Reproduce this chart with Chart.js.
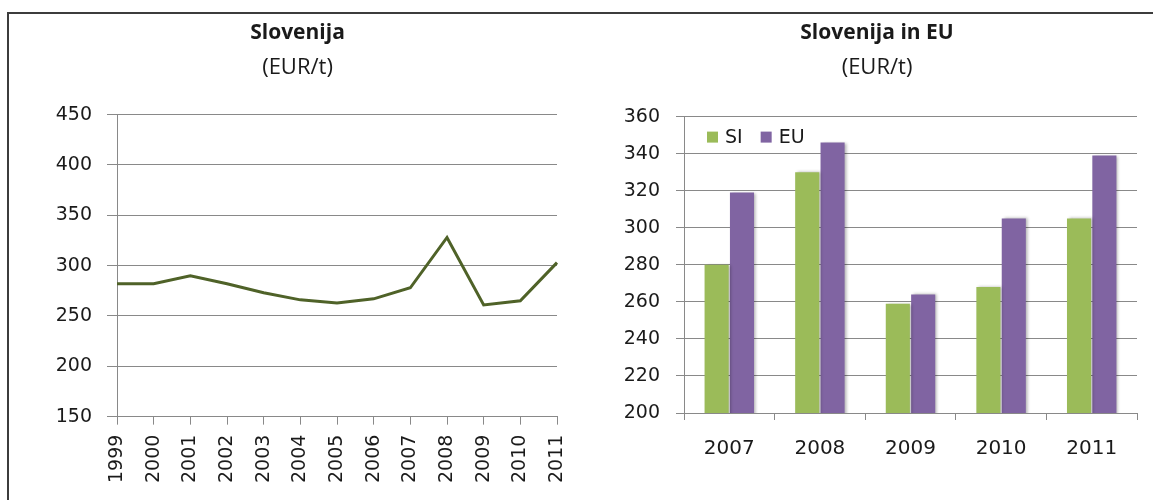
<!DOCTYPE html>
<html>
<head>
<meta charset="utf-8">
<script src="https://cdn.jsdelivr.net/npm/chart.js@4/dist/chart.umd.min.js"></script>
<style>
  html, body { margin: 0; padding: 0; background: #fff; }
  body { width: 1153px; height: 500px; position: relative; overflow: hidden; }
  .frame { position: absolute; left: 7px; top: 12px; width: 1160px; height: 500px;
           border-top: 2px solid #3c3c3c; border-left: 2px solid #3c3c3c; }
  .box { position: absolute; top: 14px; height: 486px; }
  #left { left: 9px; width: 571px; }
  #right { left: 580px; width: 573px; }
</style>
</head>
<body>
<div class="frame"></div>
<div class="box" id="left"><canvas id="lineChart"></canvas></div>
<div class="box" id="right"><canvas id="barChart"></canvas></div>
<script>
// data
const years = ['1999', '2000', '2001', '2002', '2003', '2004', '2005', '2006', '2007', '2008', '2009', '2010', '2011'];
const slovenija = [282, 282, 290, 282, 273, 266, 263, 267, 278, 328, 261, 265, 303];

const barYears = ['2007', '2008', '2009', '2010', '2011'];
const si = [280, 330, 259, 268, 305];
const eu = [319, 346, 264, 305, 339];

const gridColor = '#898989';
const textColor = '#1a1a1a';
const titleFont = "'Open Sans', sans-serif";
const tickFont = "'DejaVu Sans', sans-serif";

Chart.defaults.font.family = tickFont;
Chart.defaults.font.size = 19;
Chart.defaults.color = textColor;
Chart.defaults.animation = false;

function titles(title, padBottom) {
    return {
        title: { display: true, text: title, font: { family: titleFont, size: 21, weight: 'bold' }, color: textColor, padding: { top: 6, bottom: 9 } },
        subtitle: { display: true, text: '(EUR/t)', font: { family: titleFont, size: 22 }, color: textColor, padding: { top: 0, bottom: padBottom } },
        legend: { display: false },
        tooltip: { enabled: false }
    };
}

// left chart - line
new Chart(document.getElementById('lineChart'), {
    type: 'line',
    data: {
        labels: years,
        datasets: [{
            data: slovenija,
            borderColor: '#4f6228',
            borderWidth: 3,
            pointRadius: 0,
            tension: 0
        }]
    },
    options: {
        responsive: true,
        maintainAspectRatio: false,
        layout: { padding: { left: 18, right: 12, top: 0, bottom: 7 } },
        plugins: titles('Slovenija', 34),
        scales: {
            x: {
                afterFit: s => { s.paddingRight = 23; },
                grid: { drawOnChartArea: false, color: gridColor, tickLength: 8 },
                border: { color: gridColor },
                ticks: { minRotation: 90, maxRotation: 90, autoSkip: false, padding: 10 }
            },
            y: {
                min: 150,
                max: 450,
                afterFit: s => { s.width = 90; },
                grid: { color: gridColor, tickLength: 10 },
                border: { color: gridColor },
                ticks: { stepSize: 50, padding: 15 }
            }
        }
    }
});

// legend drawn inside the plot, top-left
const innerLegend = {
    id: 'innerLegend',
    afterDraw(chart) {
        const ctx = chart.ctx;
        const area = chart.chartArea;
        let x = area.left + 23;
        const y = area.top + 21;
        ctx.save();
        ctx.font = '19px ' + tickFont;
        ctx.textBaseline = 'middle';
        chart.data.datasets.forEach(ds => {
            ctx.fillStyle = ds.backgroundColor;
            ctx.fillRect(x, y - 6, 11, 11);
            ctx.fillStyle = textColor;
            ctx.fillText(ds.label, x + 18, y);
            x += 18 + ctx.measureText(ds.label).width + 18;
        });
        ctx.restore();
    }
};

// soft shadow on the right side of bars
const barShadow = {
    id: 'barShadow',
    beforeDatasetsDraw(chart) {
        const ctx = chart.ctx;
        ctx.save();
        ctx.shadowColor = 'rgba(0,0,0,0.3)';
        ctx.shadowOffsetX = 2;
        ctx.shadowOffsetY = 0;
        ctx.shadowBlur = 3;
    },
    afterDatasetsDraw(chart) {
        chart.ctx.restore();
    }
};

// right chart - bars
new Chart(document.getElementById('barChart'), {
    type: 'bar',
    data: {
        labels: barYears,
        datasets: [
            { label: 'SI', data: si, backgroundColor: '#9bbb59', categoryPercentage: 0.56, barPercentage: 0.95 },
            { label: 'EU', data: eu, backgroundColor: '#8064a2', categoryPercentage: 0.56, barPercentage: 0.95 }
        ]
    },
    options: {
        responsive: true,
        maintainAspectRatio: false,
        layout: { padding: { left: 37, right: 16, top: 0, bottom: 22 } },
        plugins: titles('Slovenija in EU', 36),
        scales: {
            x: {
                grid: { drawOnChartArea: false, color: gridColor, tickLength: 7 },
                border: { color: gridColor },
                ticks: { padding: 17, font: { size: 20 } }
            },
            y: {
                min: 200,
                max: 360,
                afterFit: s => { s.width = 67; },
                grid: { color: gridColor, tickLength: 8 },
                border: { color: gridColor },
                ticks: { stepSize: 20, padding: 16 }
            }
        }
    },
    plugins: [barShadow, innerLegend]
});
</script>
</body>
</html>
